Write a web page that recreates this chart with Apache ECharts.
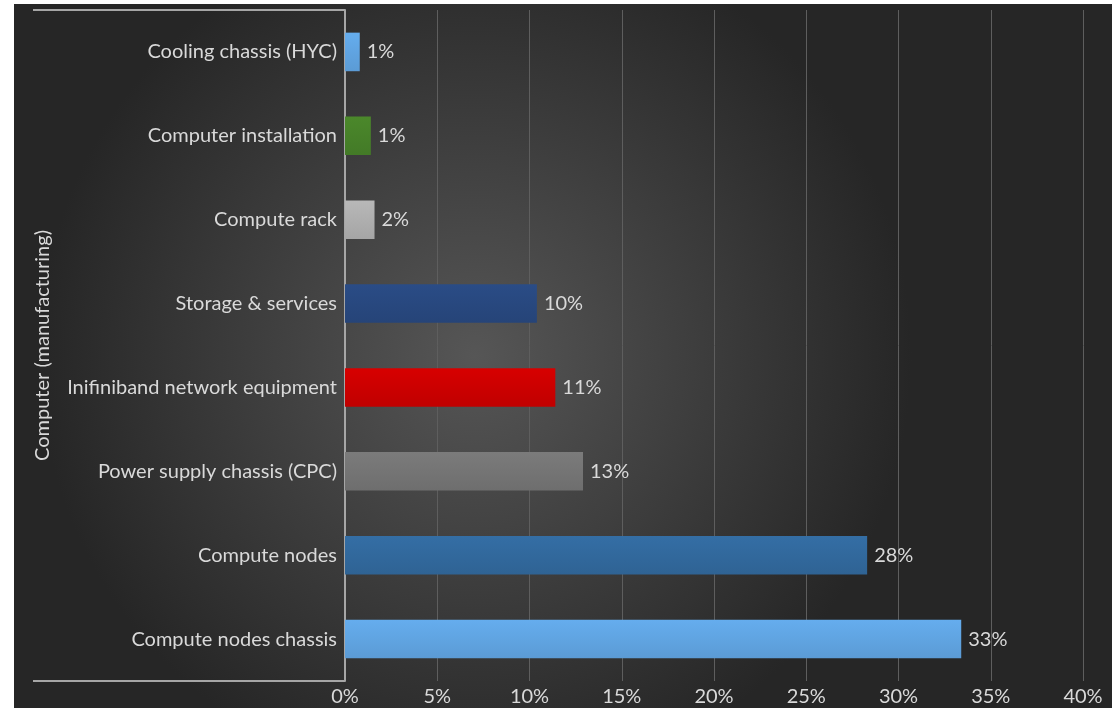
<!DOCTYPE html>
<html>
<head>
<meta charset="utf-8">
<script src="https://cdn.jsdelivr.net/npm/echarts@6/dist/echarts.min.js"></script>
<style>
  html, body { margin: 0; padding: 0; background: #ffffff; }
  #main { width: 1117px; height: 708px; }
</style>
</head>
<body>
<div id="main"></div>
<script>
// bottom to top, as the category axis draws them
const categories = [
    'Compute nodes chassis',
    'Compute nodes',
    'Power supply chassis (CPC)',
    'Inifiniband network equipment',
    'Storage & services',
    'Compute rack',
    'Computer installation',
    'Cooling chassis (HYC)'
];
const shares = [33.4, 28.3, 12.9, 11.4, 10.4, 1.6, 1.4, 0.8];
const barColors = ['#5b9bd5', '#2f6394', '#6e6e6e', '#c00000', '#264478', '#a5a5a5', '#437a27', '#5b9bd5'];
const xTicks = [0, 5, 10, 15, 20, 25, 30, 35, 40];

const myChart = echarts.init(document.getElementById('main'));
const textColor = '#d9d9d9';
const font = 'Lato, "Open Sans", sans-serif';

function barFill(c) {
    return new echarts.graphic.LinearGradient(0, 0, 0, 1, [
        { offset: 0, color: echarts.color.lift(c, -0.12) },
        { offset: 1, color: c }
    ]);
}

let option = {
    backgroundColor: '#ffffff',
    textStyle: { fontFamily: font },
    animation: false,
    graphic: [
        {
            type: 'rect',
            z: -100,
            shape: { x: 14, y: 4, width: 1098, height: 704 },
            style: {
                fill: new echarts.graphic.RadialGradient(0.42, 0.5, 0.62, [
                    { offset: 0, color: '#565656' },
                    { offset: 1, color: '#262626' }
                ])
            }
        },
        {
            type: 'line',
            shape: { x1: 33, y1: 10, x2: 345, y2: 10 },
            style: { stroke: '#a6a6a6', lineWidth: 2 }
        },
        {
            type: 'line',
            shape: { x1: 33, y1: 681, x2: 345, y2: 681 },
            style: { stroke: '#a6a6a6', lineWidth: 2 }
        }
    ],
    grid: { left: 345, right: 34, top: 10, bottom: 27, containLabel: false },
    xAxis: {
        type: 'value',
        min: xTicks[0],
        max: xTicks[xTicks.length - 1],
        interval: 5,
        axisLine: { show: false },
        axisTick: { show: false },
        axisLabel: {
            color: textColor,
            fontSize: 20,
            margin: 6,
            formatter: v => v + '%'
        },
        splitLine: { lineStyle: { color: '#5e5e5e', width: 1 } }
    },
    yAxis: {
        type: 'category',
        data: categories,
        name: 'Computer (manufacturing)',
        nameLocation: 'middle',
        nameGap: 292,
        nameRotate: 90,
        nameTextStyle: { color: textColor, fontSize: 20 },
        axisLine: { lineStyle: { color: '#a6a6a6', width: 2 } },
        axisTick: { show: false },
        axisLabel: { color: textColor, fontSize: 20, margin: 8 }
    },
    series: [
        {
            type: 'bar',
            barWidth: '46%',
            data: shares.map((v, i) => ({
                value: v,
                itemStyle: { color: barFill(barColors[i]) }
            })),
            label: {
                show: true,
                position: 'right',
                distance: 7,
                color: textColor,
                fontSize: 20,
                formatter: p => Math.round(p.value) + '%'
            }
        }
    ]
};

option && myChart.setOption(option);
</script>
</body>
</html>
